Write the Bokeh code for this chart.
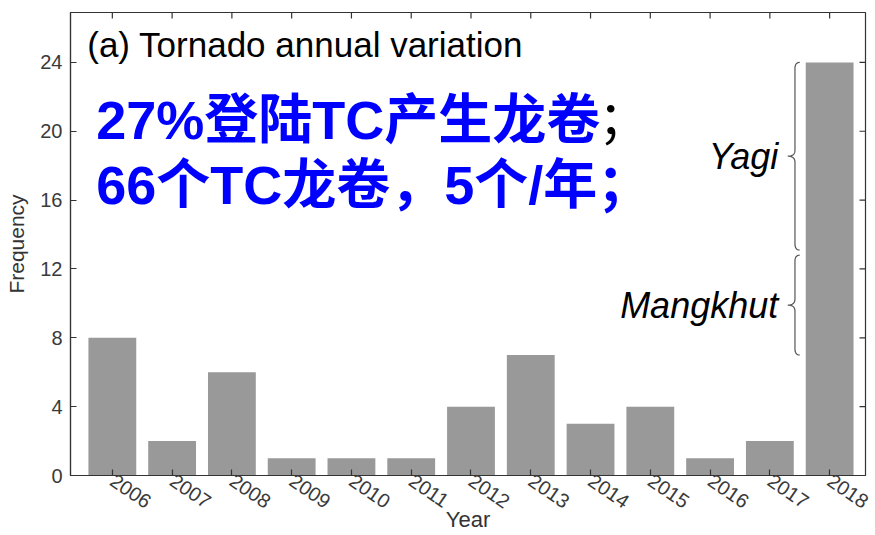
import numpy as np
from bokeh.plotting import figure
from bokeh.models import Range1d, FixedTicker
from bokeh.core.properties import value
from bokeh.embed import file_html
from bokeh.resources import INLINE

# Annual tornado counts
years = [2006, 2007, 2008, 2009, 2010, 2011, 2012, 2013, 2014, 2015, 2016, 2017, 2018]
counts = [8, 2, 6, 1, 1, 1, 4, 7, 3, 4, 1, 2, 24]
y_ticks = [0, 4, 8, 12, 16, 20, 24]

# 2018 split by typhoon (lower, upper counts covered by each brace)
storms = ["Mangkhut", "Yagi"]
storm_spans = [(7.0, 12.8), (13.1, 24.0)]

title_text = "(a) Tornado annual variation"
note_line1 = "27%登陆TC产生龙卷"
note_line1_end = "；"
note_line2 = "66个TC龙卷，5个/年；"

LATIN = "Liberation Sans"
MIXED = "Liberation Sans, Noto Sans CJK SC"
AXIS_GREY = "#333333"

X0, X1 = 2005.3, 2018.6
Y0, Y1 = 0, 26.9

p = figure(width=875, height=535, output_backend="svg", toolbar_location=None,
           x_range=Range1d(X0, X1), y_range=Range1d(Y0, Y1),
           min_border_left=70, min_border_right=10, min_border_top=12, min_border_bottom=60)
p.grid.visible = False
p.outline_line_color = AXIS_GREY
p.outline_line_width = 1.2
p.background_fill_color = "white"
p.border_fill_color = "white"

p.vbar(x=years, top=counts, width=0.8, bottom=0, fill_color="#999999", line_color=None)

# axes: inward ticks
def style_axis(ax):
    ax.major_tick_in = 6
    ax.major_tick_out = 0
    ax.minor_tick_line_color = None
    ax.axis_line_color = AXIS_GREY
    ax.axis_line_width = 1.2
    ax.major_tick_line_color = AXIS_GREY
    ax.major_tick_line_width = 1.2
    ax.major_label_text_font = LATIN
    ax.major_label_text_color = "#3a3a3a"
    ax.axis_label_text_font = LATIN
    ax.axis_label_text_font_style = "normal"
    ax.axis_label_text_color = AXIS_GREY

xa = p.xaxis[0]
xa.ticker = FixedTicker(ticks=years)
style_axis(xa)
xa.major_label_text_font_size = "20px"
xa.major_label_orientation = -0.6
xa.major_label_standoff = 3
xa.axis_label = "Year"
xa.axis_label_text_font_size = "22px"
xa.axis_label_standoff = -11

ya = p.yaxis[0]
ya.ticker = FixedTicker(ticks=y_ticks)
style_axis(ya)
ya.major_label_text_font_size = "20px"
ya.major_label_standoff = 8
ya.axis_label = "Frequency"
ya.axis_label_text_font_size = "21px"
ya.axis_label_standoff = 9

# inward tick marks on the top and right edges (outer half clipped by the frame)
p.scatter(x=years, y=[Y1] * len(years), marker="dash", angle=np.pi / 2, size=12,
          line_color=AXIS_GREY, line_width=1.2)
p.scatter(x=[X1] * len(y_ticks), y=y_ticks, marker="dash", size=12,
          line_color=AXIS_GREY, line_width=1.2)

# panel title
p.text(x=[2005.58], y=[25.05], text=[title_text], text_font=value(LATIN),
       text_font_size="35px", text_color="black", text_baseline="middle")

# blue annotation lines
p.text(x=[2005.73], y=[20.63], text=[note_line1], text_font=value(MIXED),
       text_font_size="54px", text_font_style="bold", text_color="#0000ff",
       text_baseline="middle")
p.text(x=[2014.13], y=[20.63], text=[note_line1_end], text_font=value(MIXED),
       text_font_size="50px", text_color="black", text_baseline="middle")
p.text(x=[2005.73], y=[16.9], text=[note_line2], text_font=value(MIXED),
       text_font_size="54px", text_font_style="bold", text_color="#0000ff",
       text_baseline="middle")

# curly braces beside the 2018 bar
def quad(p0, c, p1, n=12):
    t = np.linspace(0, 1, n)[:, None]
    return (1 - t) ** 2 * np.array(p0) + 2 * (1 - t) * t * np.array(c) + t ** 2 * np.array(p1)

def brace(x0, lo, hi, curl=0.08, tip=0.12, r=0.35):
    mid = (lo + hi) / 2
    segs = [
        quad((x0 + curl, hi), (x0, hi), (x0, hi - r)),
        np.array([[x0, hi - r], [x0, mid + r]]),
        quad((x0, mid + r), (x0, mid), (x0 - tip, mid)),
        quad((x0 - tip, mid), (x0, mid), (x0, mid - r)),
        np.array([[x0, mid - r], [x0, lo + r]]),
        quad((x0, lo + r), (x0, lo), (x0 + curl, lo)),
    ]
    pts = np.vstack(segs)
    return pts[:, 0], pts[:, 1], mid

brace_x = 2017.42
for name, (lo, hi) in zip(storms, storm_spans):
    bx, by, mid = brace(brace_x, lo, hi)
    p.line(bx, by, line_color="#555555", line_width=1.2)
    p.text(x=[2017.14], y=[mid], text=[name], text_font=value(LATIN),
           text_font_size="36px", text_font_style="italic", text_color="black",
           text_align="right", text_baseline="middle")

open("out.html", "w").write(file_html(p, INLINE))
